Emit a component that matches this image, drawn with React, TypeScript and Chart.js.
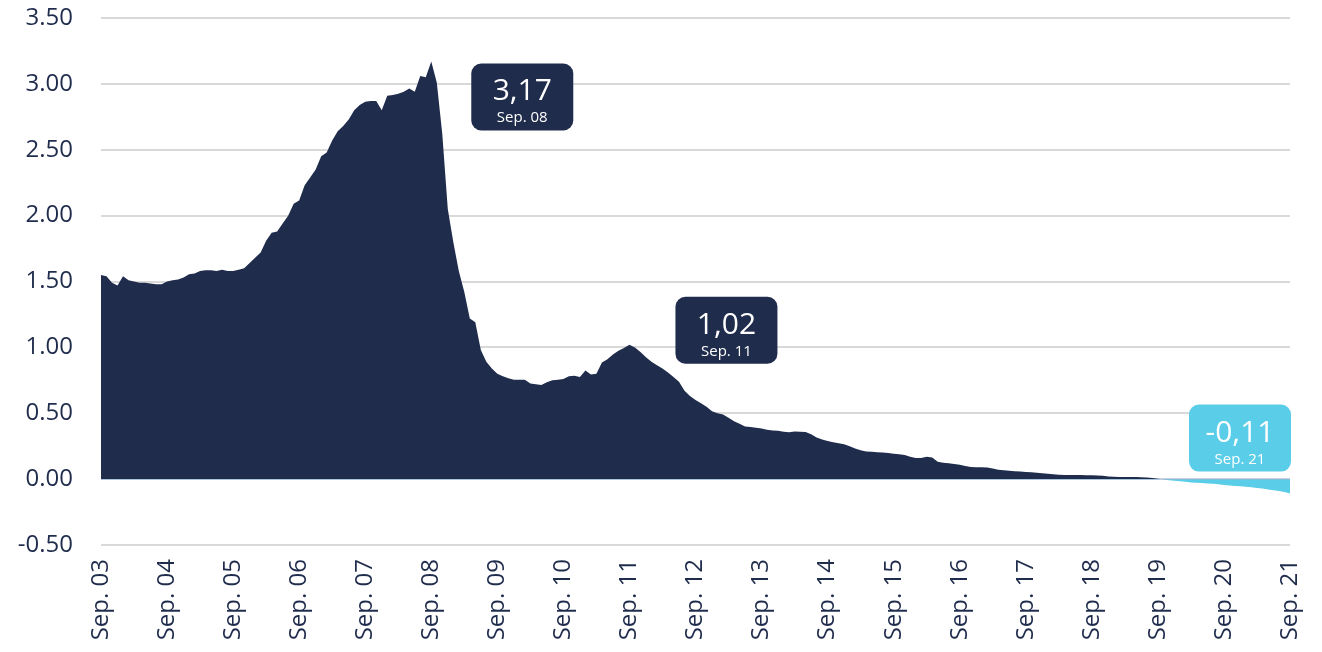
import React, { useEffect, useRef } from "react";
import { Chart, registerables } from "chart.js";

Chart.register(...registerables);

// ---- data ----
const START_YEAR = 2003;
const START_MONTH = 8; // September (0-based)
const MONTH_NAMES = ["Jan.", "Feb.", "Mar.", "Apr.", "May", "Jun.", "Jul.", "Aug.", "Sep.", "Oct.", "Nov.", "Dec."];

const values2003_2004 = [1.55, 1.54, 1.49, 1.47, 1.54, 1.51, 1.5, 1.49, 1.49, 1.485, 1.48, 1.48];
const values2004_2005 = [1.5, 1.51, 1.515, 1.53, 1.555, 1.56, 1.58, 1.585, 1.585, 1.58, 1.59, 1.58];
const values2005_2006 = [1.58, 1.59, 1.6, 1.64, 1.68, 1.72, 1.81, 1.87, 1.88, 1.94, 2.0, 2.09];
const values2006_2007 = [2.115, 2.23, 2.29, 2.35, 2.45, 2.48, 2.57, 2.64, 2.68, 2.73, 2.8, 2.84];
const values2007_2008 = [2.865, 2.87, 2.87, 2.8, 2.91, 2.915, 2.925, 2.94, 2.965, 2.94, 3.06, 3.05];
const values2008_2009 = [3.17, 3.01, 2.62, 2.05, 1.8, 1.58, 1.42, 1.22, 1.19, 0.98, 0.89, 0.84];
const values2009_2010 = [0.8, 0.78, 0.765, 0.755, 0.755, 0.755, 0.725, 0.72, 0.715, 0.735, 0.75, 0.755];
const values2010_2011 = [0.76, 0.78, 0.785, 0.775, 0.825, 0.795, 0.8, 0.885, 0.91, 0.945, 0.975, 0.995];
const values2011_2012 = [1.02, 1.0, 0.965, 0.925, 0.89, 0.865, 0.84, 0.81, 0.775, 0.74, 0.67, 0.63];
const values2012_2013 = [0.6, 0.575, 0.55, 0.515, 0.5, 0.49, 0.465, 0.44, 0.42, 0.4, 0.395, 0.39];
const values2013_2014 = [0.385, 0.375, 0.37, 0.368, 0.36, 0.355, 0.362, 0.36, 0.357, 0.34, 0.315, 0.3];
const values2014_2015 = [0.29, 0.28, 0.272, 0.265, 0.25, 0.232, 0.22, 0.21, 0.207, 0.204, 0.202, 0.198];
const values2015_2016 = [0.192, 0.188, 0.183, 0.17, 0.16, 0.16, 0.17, 0.165, 0.132, 0.125, 0.12, 0.115];
const values2016_2017 = [0.11, 0.1, 0.092, 0.09, 0.09, 0.088, 0.08, 0.072, 0.068, 0.064, 0.06, 0.058];
const values2017_2018 = [0.055, 0.052, 0.048, 0.045, 0.04, 0.037, 0.034, 0.032, 0.031, 0.031, 0.032, 0.03];
const values2018_2019 = [0.03, 0.028, 0.025, 0.02, 0.018, 0.017, 0.016, 0.016, 0.016, 0.015, 0.013, 0.008];
const values2019_2020 = [0.002, -0.003, -0.008, -0.012, -0.016, -0.02, -0.025, -0.028, -0.03, -0.033, -0.036, -0.038];
const values2020_2021 = [-0.045, -0.048, -0.052, -0.055, -0.058, -0.062, -0.068, -0.072, -0.078, -0.085, -0.09, -0.098];
const values2021 = [-0.11];

const seriesValues = [
  ...values2003_2004, ...values2004_2005, ...values2005_2006, ...values2006_2007,
  ...values2007_2008, ...values2008_2009, ...values2009_2010, ...values2010_2011,
  ...values2011_2012, ...values2012_2013, ...values2013_2014, ...values2014_2015,
  ...values2015_2016, ...values2016_2017, ...values2017_2018, ...values2018_2019,
  ...values2019_2020, ...values2020_2021, ...values2021,
];

const categories = seriesValues.map((_, i) => {
  const m = (START_MONTH + i) % 12;
  const y = START_YEAR + Math.floor((START_MONTH + i) / 12);
  return `${MONTH_NAMES[m]} ${String(y % 100).padStart(2, "0")}`;
});

const yTicks = [-0.5, 0, 0.5, 1, 1.5, 2, 2.5, 3, 3.5];

// labelled points (index into categories)
const highlightIndices = [60, 96, 216];

// ---- styles ----
const NAVY = "#1f2c4c";
const CYAN = "#5acde8";
const FONT = "'Open Sans', 'Noto Sans', sans-serif";
const callouts = [
  { dx: 40, dy: 2, color: NAVY },
  { dx: 46, dy: -48, color: NAVY },
  { dx: -101, dy: -89, color: CYAN },
];

const calloutPlugin = {
  id: "callouts",
  afterDatasetsDraw(chart: any) {
    const ctx = chart.ctx;
    const meta = chart.getDatasetMeta(0);
    highlightIndices.forEach((idx, k) => {
      const pt = meta.data[idx];
      if (!pt) return;
      const c = callouts[k];
      const w = 102, h = 67, r = 10;
      const left = pt.x + c.dx;
      const top = pt.y + c.dy;
      ctx.save();
      ctx.fillStyle = c.color;
      ctx.beginPath();
      ctx.roundRect(left, top, w, h, r);
      ctx.fill();
      ctx.fillStyle = "#ffffff";
      ctx.textAlign = "center";
      ctx.textBaseline = "alphabetic";
      ctx.font = `30px ${FONT}`;
      const v = seriesValues[idx].toFixed(2).replace(".", ",");
      ctx.fillText(v, left + w / 2, top + 37);
      ctx.font = `15px ${FONT}`;
      ctx.fillText(categories[idx], left + w / 2, top + 59);
      ctx.restore();
    });
  },
};

export default function App() {
  const ref = useRef<HTMLCanvasElement | null>(null);
  useEffect(() => {
    if (!ref.current) return;
    const chart = new Chart(ref.current, {
      type: "line",
      data: {
        labels: categories,
        datasets: [
          {
            data: seriesValues,
            borderColor: "rgba(0,0,0,0)",
            borderWidth: 1,
            pointRadius: 0,
            tension: 0,
            fill: { target: "origin", above: NAVY, below: CYAN },
          },
        ],
      },
      options: {
        animation: false,
        responsive: false,
        maintainAspectRatio: false,
        layout: { padding: { top: 18, right: 32, left: 0, bottom: 0 } },
        plugins: { legend: { display: false }, tooltip: { enabled: false } },
        scales: {
          x: {
            type: "category",
            grid: { display: false, drawTicks: false },
            border: { display: false },
            afterFit: (s: any) => { s.height = 107; s.paddingLeft = 0; s.paddingRight = 0; },
            ticks: {
              autoSkip: false,
              maxRotation: 90,
              minRotation: 90,
              padding: 14,
              color: NAVY,
              font: { family: FONT, size: 24 },
              callback: (_v: any, i: number) => (i % 12 === 0 ? categories[i] : ""),
            },
          },
          y: {
            min: -0.5,
            max: 3.5,
            afterFit: (s: any) => { s.width = 101; s.paddingTop = 0; s.paddingBottom = 0; },
            afterBuildTicks: (s: any) => { s.ticks = yTicks.map((v) => ({ value: v })); },
            grid: {
              drawTicks: false,
              lineWidth: 2,
              color: (c: any) => (c.tick && c.tick.value === 0 ? "#c9cee0" : "#d9d9d9"),
            },
            border: { display: false },
            ticks: {
              padding: 28,
              color: NAVY,
              font: { family: FONT, size: 24 },
              callback: (v: any) => Number(v).toFixed(2),
            },
          },
        },
      },
      plugins: [calloutPlugin],
    });
    return () => chart.destroy();
  }, []);
  return (
    <div style={{ position: "fixed", left: 0, top: 0, width: 1322, height: 652, background: "#fff" }}>
      <canvas ref={ref} width={1322} height={652} style={{ width: 1322, height: 652, display: "block" }} />
    </div>
  );
}
